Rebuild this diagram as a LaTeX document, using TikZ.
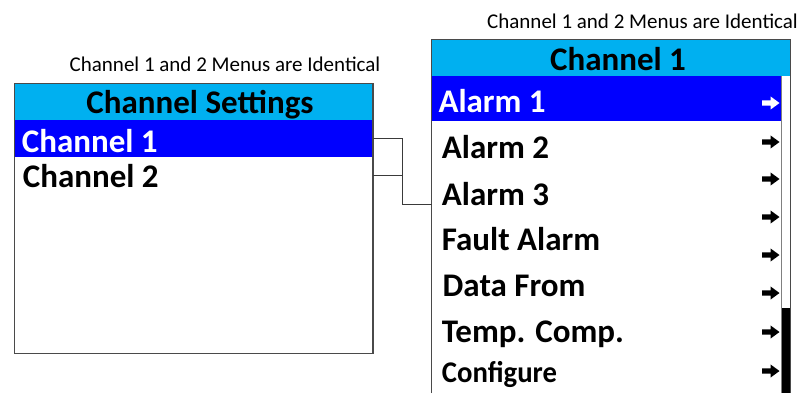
\documentclass[tikz,border=0pt]{standalone}
\usepackage{fontspec}
\setmainfont{Carlito}
\definecolor{hdrcyan}{HTML}{00B0F0}
\definecolor{selblue}{HTML}{0000FF}
\definecolor{framegray}{HTML}{4A4A4A}
\definecolor{wiregray}{HTML}{3A3A3A}
\definecolor{trackgray}{HTML}{808080}

\tikzset{
  item/.style={font=\bfseries\fontsize{33bp}{36bp}\selectfont, inner sep=0pt, anchor=base west},
  title/.style={font=\bfseries\fontsize{33bp}{36bp}\selectfont, inner sep=0pt, anchor=base},
  caption/.style={font=\fontsize{21bp}{24bp}\selectfont, inner sep=0pt, anchor=base},
  rowbox/.style={inner sep=0pt, outer sep=0pt, anchor=north west, minimum height=36.7bp},
  wire/.style={draw=wiregray, line width=1bp},
  menuarrow/.pic={
    \fill (-8.5,-2.6) -- (0,-2.6) -- (0,-6.6) -- (9,0) -- (0,6.6) -- (0,2.6) -- (-8.5,2.6) -- cycle;
  }
}

\begin{document}
\begin{tikzpicture}[x=1bp,y=-1bp]
\useasboundingbox (0,0) rectangle (803,393);

% ---- Channel Settings menu ----
\node[caption] (capL) at (225,71.5) {Channel 1 and 2 Menus are Identical};
\node[rowbox, fill=hdrcyan, minimum width=358.5bp] (lhead) at (14.5,83.3) {};
\node[rowbox, fill=selblue, minimum width=358.5bp] (ch1row) at (14.5,120) {};
\node[rowbox, minimum width=358.5bp] (ch2row) at (14.5,156.7) {};
\draw[framegray, line width=1.3bp] (14.5,83.3) rectangle (373,353.3);
\node[title] (lheadtxt) at (200,113.3) {Channel Settings};
\node[item, text=white] (ch1txt) at (21.7,152) {Channel 1};
\node[item] (ch2txt) at (22.7,187) {Channel 2};

% ---- Channel 1 menu ----
\node[caption] (capR) at (642.5,28.3) {Channel 1 and 2 Menus are Identical};
\fill[hdrcyan] (431.7,39.3) rectangle (790.3,75.7);
\fill[selblue] (431.7,75.7) rectangle (781.7,120.7);
% scroll bar: track and thumb
\draw[trackgray, line width=1bp] (781.7,75.7) -- (781.7,393);
\fill[black] (781.7,308) rectangle (790.3,393);
% outline of the menu (open at the bottom)
\draw[framegray, line width=1.3bp] (431.7,393) -- (431.7,39.3) -- (790.3,39.3) -- (790.3,393);

\node[title] (rheadtxt) at (618,70) {Channel 1};
\node[item, text=white] (a1) at (438.3,112) {Alarm 1};
\node[item] (a2) at (441.7,158) {Alarm 2};
\node[item] (a3) at (441.7,205) {Alarm 3};
\node[item] (fa) at (441.7,250) {Fault Alarm};
\node[item] (df) at (442.5,296.5) {Data From};
\node[item] (tc) at (441.7,342) {Temp. Comp.};
\node[item] (cf) at (441.7,382.3) {\scalebox{0.87}[0.91]{Configure}};

\pic[white] at (770.5,103) {menuarrow};
\foreach \y in {142,179,217,255,293,332,371}
  \pic[black] at (770.5,\y) {menuarrow};

% ---- connectors ----
\coordinate (joint) at (402.7,204);
\coordinate (a3in) at (431.7,204);
\draw[wire] (ch1row.east) -| (joint) -- (a3in);
\draw[wire] (ch2row.east) -- (ch2row.east -| joint);
\end{tikzpicture}
\end{document}
